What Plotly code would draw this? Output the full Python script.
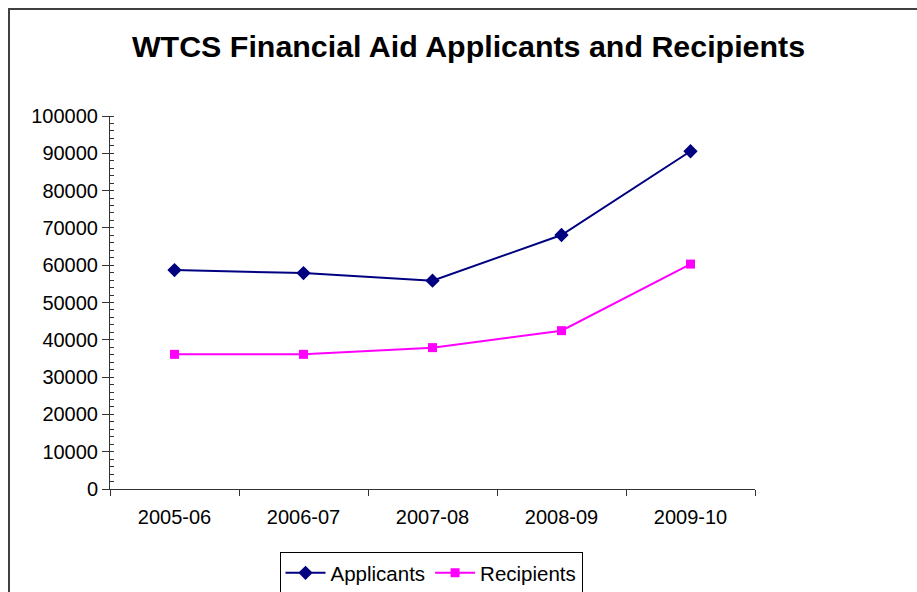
import plotly.graph_objects as go

years = ["2005-06", "2006-07", "2007-08", "2008-09", "2009-10"]
applicants = [58700, 57900, 55850, 68100, 90550]
recipients = [36100, 36100, 37900, 42450, 60300]

L, R, T, B = 110, 162, 116, 103
W, H = 917, 592
pw = W - L - R
ph = H - T - B

fig = go.Figure()
fig.add_trace(go.Scatter(
    x=years, y=applicants, name="Applicants", mode="lines+markers",
    line=dict(color="#000080", width=2),
    marker=dict(symbol="diamond", size=11, color="#000080"),
))
fig.add_trace(go.Scatter(
    x=years, y=recipients, name="Recipients", mode="lines+markers",
    line=dict(color="#FF00FF", width=2),
    marker=dict(symbol="square", size=9, color="#FF00FF"),
))

font = "Arial, Liberation Sans, sans-serif"
fig.update_layout(
    width=W, height=H,
    margin=dict(l=L, r=R, t=T, b=B, autoexpand=False),
    paper_bgcolor="white", plot_bgcolor="white",
    font=dict(family=font, size=20, color="black"),
    title=dict(text="<b>WTCS Financial Aid Applicants and Recipients</b>",
               x=(468.5) / W, xanchor="center", y=1 - 46 / H, yanchor="middle",
               font=dict(size=30.4, family=font, color="black")),
    showlegend=True,
    legend=dict(orientation="h", x=(431 - L) / pw, xanchor="center",
                y=-(552 - (T + ph)) / ph, yanchor="top",
                bordercolor="black", borderwidth=1, bgcolor="white",
                font=dict(size=20.5), itemwidth=40, tracegroupgap=0),
    xaxis=dict(type="category", range=[-0.5, 4.5], tickson="boundaries",
               ticks="outside", ticklen=6, tickcolor="#333", showline=True,
               linecolor="#333", linewidth=1, showgrid=False, zeroline=False,
               ticklabelstandoff=10),
    yaxis=dict(range=[0, 100000], dtick=10000, ticks="outside", ticklen=7,
               tickcolor="#333", showline=True, linecolor="#333", linewidth=1,
               showgrid=False, zeroline=False, tickformat="d",
               minor=dict(dtick=2000, ticks="inside", ticklen=4, tickcolor="#333", showgrid=False)),
    shapes=[dict(type="rect", xref="paper", yref="paper",
                 x0=(9 - L) / pw, x1=3, y0=-3, y1=(T + ph - 9) / ph,
                 line=dict(color="#404040", width=2), fillcolor="rgba(0,0,0,0)", layer="below")],
)

fig.write_html("out.html")
